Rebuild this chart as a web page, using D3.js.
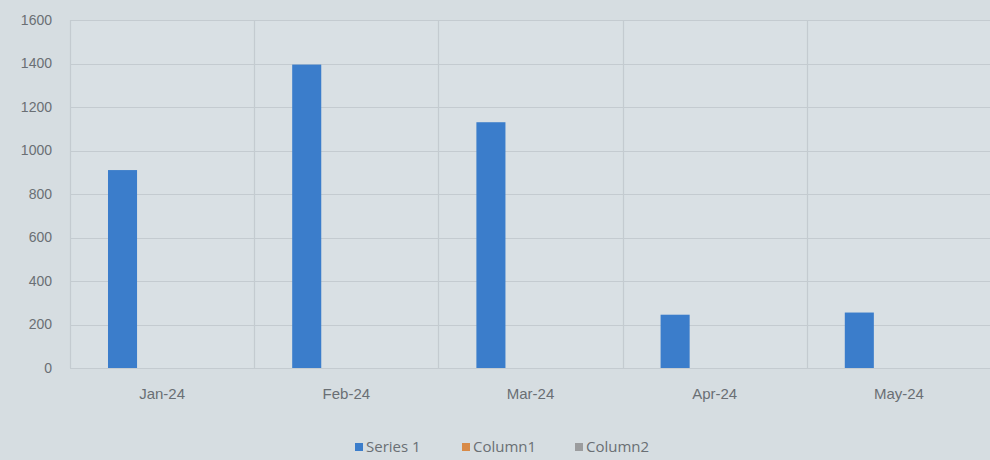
<!DOCTYPE html>
<html>
<head>
<meta charset="utf-8">
<script src="https://cdn.jsdelivr.net/npm/d3@7"></script>
<style>
  html, body { margin: 0; padding: 0; background: #d6dde1; }
  svg { display: block; }
</style>
</head>
<body>
<div id="chart"></div>
<script>
// chart data
const categories = ["Jan-24", "Feb-24", "Mar-24", "Apr-24", "May-24"];
const seriesNames = ["Series 1", "Column1", "Column2"];
const series1 = [910, 1395, 1130, 245, 255];
const column1 = [null, null, null, null, null];
const column2 = [null, null, null, null, null];
const yTicks = [0, 200, 400, 600, 800, 1000, 1200, 1400, 1600];

const seriesValues = [series1, column1, column2];
const seriesColors = ["#3b7dcb", "#d88a47", "#9b9c9e"];
const textColor = "#6a6f74";

const width = 990, height = 460;
const margin = {top: 20, right: -1, bottom: 92, left: 70};
const plotW = width - margin.left - margin.right;
const plotH = height - margin.top - margin.bottom;

const svg = d3.select("#chart").append("svg")
  .attr("width", width)
  .attr("height", height)
  .style("font-family", "'Open Sans', 'Liberation Sans', sans-serif");

const g = svg.append("g")
  .attr("transform", `translate(${margin.left},${margin.top})`);

// scales
const x = d3.scaleBand()
  .domain(categories)
  .range([0, plotW])
  .padding(0);

const xInner = d3.scaleBand()
  .domain(seriesNames)
  .range([0, x.bandwidth()])
  .paddingInner(0.266)
  .paddingOuter(0.96);

const y = d3.scaleLinear()
  .domain([0, 1600])
  .range([plotH, 0]);

// plot area background
g.append("rect")
  .attr("width", plotW)
  .attr("height", plotH)
  .attr("fill", "#d9e0e4");

// horizontal gridlines
g.append("g")
  .selectAll("line")
  .data(yTicks)
  .join("line")
  .attr("x1", 0)
  .attr("x2", plotW)
  .attr("y1", d => Math.round(y(d)) + 0.5)
  .attr("y2", d => Math.round(y(d)) + 0.5)
  .attr("stroke", "#c4cbd0")
  .attr("stroke-width", 1.2);

// vertical gridlines at category boundaries
g.append("g")
  .selectAll("line")
  .data(categories)
  .join("line")
  .attr("x1", d => Math.round(x(d)) + 0.5)
  .attr("x2", d => Math.round(x(d)) + 0.5)
  .attr("y1", 0)
  .attr("y2", plotH)
  .attr("stroke", "#c4cbd0")
  .attr("stroke-width", 1.2);

// y axis labels
const yAxis = g.append("g")
  .call(d3.axisLeft(y).tickValues(yTicks).tickSize(0).tickPadding(18).tickFormat(d3.format("d")))
  .call(a => a.select(".domain").remove());
yAxis.selectAll("text")
  .attr("fill", textColor)
  .style("font-size", "14px");

// x axis labels
const xAxis = g.append("g")
  .attr("transform", `translate(0,${plotH})`)
  .call(d3.axisBottom(x).tickSize(0).tickPadding(20))
  .call(a => a.select(".domain").remove());
xAxis.selectAll("text")
  .attr("fill", textColor)
  .style("font-size", "15px");

// bars
seriesNames.forEach((name, si) => {
  const vals = seriesValues[si];
  g.append("g")
    .selectAll("rect")
    .data(categories.map((c, i) => ({c: c, v: vals[i]})).filter(d => d.v != null))
    .join("rect")
    .attr("x", d => x(d.c) + xInner(name))
    .attr("width", xInner.bandwidth())
    .attr("y", d => y(d.v))
    .attr("height", d => y(0) - y(d.v))
    .attr("fill", seriesColors[si]);
});

// legend
const legendX = [355, 462, 575];
const legend = svg.append("g")
  .attr("transform", `translate(0,447)`);
seriesNames.forEach((name, i) => {
  legend.append("rect")
    .attr("x", legendX[i])
    .attr("y", -4)
    .attr("width", 8)
    .attr("height", 8)
    .attr("fill", seriesColors[i]);
  legend.append("text")
    .attr("x", legendX[i] + 11)
    .attr("y", 0)
    .attr("dy", "0.35em")
    .attr("fill", textColor)
    .style("font-size", "15px")
    .text(name);
});
</script>
</body>
</html>
